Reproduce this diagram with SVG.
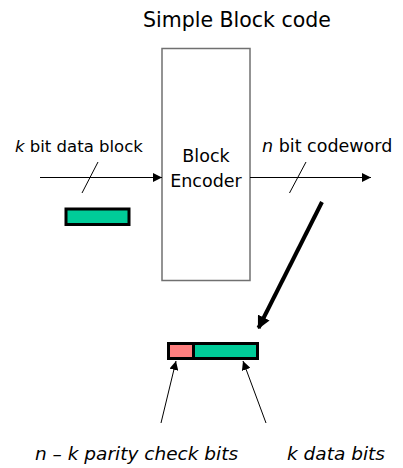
<svg xmlns="http://www.w3.org/2000/svg" width="403" height="468" viewBox="0 0 403 468">
  <style>
    .lbl { font-family: "DejaVu Sans", "Liberation Sans", sans-serif; fill: #000; }
    .it { font-style: italic; }
    .thin { stroke: #000; stroke-width: 1; fill: none; }
    .data { fill: #00CC99; stroke: #000; stroke-width: 3; }
    .parity { fill: #FF7F7F; }
  </style>
  <defs>
    <marker id="arrow" viewBox="0 0 10 10" refX="10" refY="5" markerWidth="9" markerHeight="9" markerUnits="userSpaceOnUse" orient="auto">
      <path d="M0,0 L10,5 L0,10 z" fill="#000"/>
    </marker>
    <marker id="arrowBig" viewBox="0 0 10 10" refX="9" refY="5" markerWidth="13" markerHeight="13" markerUnits="userSpaceOnUse" orient="auto">
      <path d="M0,0 L10,5 L0,10 z" fill="#000"/>
    </marker>
  </defs>

  <text class="lbl" x="237" y="27" font-size="20.5" text-anchor="middle">Simple Block code</text>

  <g id="encoder">
    <rect x="162" y="48.5" width="88" height="232" fill="#fff" stroke="#707070" stroke-width="1.5"/>
    <text class="lbl" x="206" y="162" font-size="17.5" text-anchor="middle">Block</text>
    <text class="lbl" x="206" y="187" font-size="17.5" text-anchor="middle">Encoder</text>
  </g>

  <g id="input-label">
    <text class="lbl" x="15" y="152" font-size="16.5"><tspan class="it">k</tspan> bit data block</text>
  </g>

  <g id="output-label">
    <text class="lbl" x="262" y="152" font-size="17.5"><tspan class="it">n</tspan> bit codeword</text>
  </g>

  <g id="data-block">
    <rect class="data" x="66" y="209" width="63" height="15.5"/>
  </g>

  <g id="codeword">
    <rect class="data" x="168.5" y="343.5" width="89" height="15"/>
    <rect class="parity" x="170" y="345" width="22.5" height="12"/>
    <line x1="193.5" y1="344" x2="193.5" y2="358" stroke="#000" stroke-width="3"/>
  </g>

  <g id="parity-label">
    <text class="lbl it" x="35" y="460" font-size="18.5">n – k parity check bits</text>
  </g>

  <g id="data-label">
    <text class="lbl it" x="287" y="460" font-size="18.5">k data bits</text>
  </g>

  <g id="connectors">
    <line class="thin" x1="40" y1="177.5" x2="162" y2="177.5" marker-end="url(#arrow)"/>
    <line class="thin" x1="82" y1="193" x2="98" y2="162"/>
    <line class="thin" x1="250" y1="177.5" x2="371" y2="177.5" marker-end="url(#arrow)"/>
    <line class="thin" x1="289.5" y1="193" x2="306" y2="162"/>
    <line x1="322" y1="202" x2="258.5" y2="328" stroke="#000" stroke-width="4" marker-end="url(#arrowBig)"/>
    <line class="thin" x1="161" y1="423" x2="176" y2="361" marker-end="url(#arrow)"/>
    <line class="thin" x1="266" y1="423" x2="243" y2="361" marker-end="url(#arrow)"/>
  </g>
</svg>
